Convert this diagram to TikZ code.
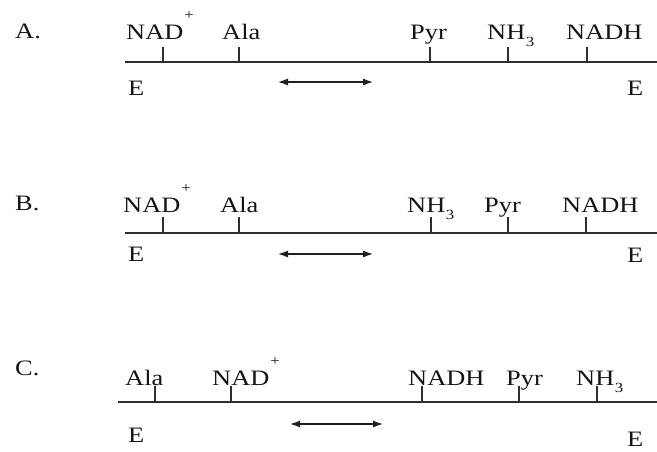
\documentclass[tikz,border=0pt]{standalone}
\usepackage{fontspec}
\setmainfont{Liberation Serif}[FakeStretch=1.2]
\usetikzlibrary{arrows.meta}
\newcommand{\nadp}{NAD\kern1pt\raisebox{20pt}{\fontsize{14}{14}\selectfont +}}
\newcommand{\nhthree}{NH\kern0.5pt\raisebox{-7pt}{\fontsize{14}{14}\selectfont 3}}
\begin{document}
\begin{tikzpicture}[x=1pt,y=-1pt,
  lbl/.style={anchor=base west,inner sep=0pt,font=\fontsize{22}{22}\selectfont,text=black!92},
  axis/.style={draw=black!82,line width=1.4pt},
  tick/.style={draw=black!82,line width=1.2pt},
  rxn/.style={draw=black!88,line width=1.2pt,{Latex[length=10pt,width=7pt]}-{Latex[length=10pt,width=7pt]}}]
\useasboundingbox (0,0) rectangle (657,451);
% ---------- Row A ----------
\node[lbl] (aA) at (15,38) {A.};
\node[lbl] (aNAD) at (126,39) {\nadp};
\node[lbl] (aAla) at (222,39) {Ala};
\node[lbl] (aPyr) at (410,39) {Pyr};
\node[lbl] (aNH) at (487,39) {\nhthree};
\node[lbl] (aNADH) at (566,39) {NADH};
\coordinate (aL) at (125,62);
\coordinate (aR) at (657,62);
\draw[axis] (aL) -- (aR);
\foreach \x in {163,239,430,508,587} \draw[tick] (\x,62) -- (\x,47);
\node[lbl] (aE1) at (128,95) {E};
\node[lbl] (aE2) at (627,95) {E};
\coordinate (aa1) at (278,82);
\coordinate (aa2) at (373,82);
\draw[rxn] (aa1) -- (aa2);
% ---------- Row B ----------
\node[lbl] (bB) at (15,210) {B.};
\node[lbl] (bNAD) at (123,212) {\nadp};
\node[lbl] (bAla) at (220,212) {Ala};
\node[lbl] (bNH) at (407,212) {\nhthree};
\node[lbl] (bPyr) at (484,212) {Pyr};
\node[lbl] (bNADH) at (562,212) {NADH};
\coordinate (bL) at (125,233);
\coordinate (bR) at (657,233);
\draw[axis] (bL) -- (bR);
\foreach \x in {163,239,431,508,586} \draw[tick] (\x,233) -- (\x,217);
\node[lbl] (bE1) at (128,261) {E};
\node[lbl] (bE2) at (627,262) {E};
\coordinate (ba1) at (278,254);
\coordinate (ba2) at (373,254);
\draw[rxn] (ba1) -- (ba2);
% ---------- Row C ----------
\node[lbl] (cC) at (15,375) {C.};
\node[lbl] (cAla) at (125,385) {Ala};
\node[lbl] (cNAD) at (212,385) {\nadp};
\node[lbl] (cNADH) at (408,385) {NADH};
\node[lbl] (cPyr) at (506,385) {Pyr};
\node[lbl] (cNH) at (576,385) {\nhthree};
\coordinate (cL) at (118,402);
\coordinate (cR) at (657,402);
\draw[axis] (cL) -- (cR);
\foreach \x in {155,231,422,519,597} \draw[tick] (\x,402) -- (\x,386);
\node[lbl] (cE1) at (128,442) {E};
\node[lbl] (cE2) at (627,446) {E};
\coordinate (ca1) at (290,424);
\coordinate (ca2) at (383,424);
\draw[rxn] (ca1) -- (ca2);
\end{tikzpicture}
\end{document}
